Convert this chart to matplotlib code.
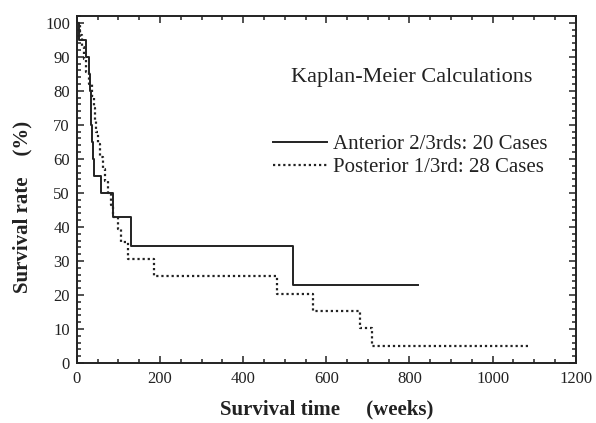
import matplotlib
matplotlib.use('Agg')
import matplotlib.pyplot as plt
from matplotlib.ticker import MultipleLocator

# Kaplan-Meier step data (weeks, % surviving)
ant_weeks = [0, 6, 22, 30, 32, 34, 35, 36, 38, 40, 58, 86, 130, 520, 820]
ant_surv = [100, 95, 90, 85, 80, 75, 70, 65, 60, 55, 50, 42.9, 34.3, 22.9, 22.9]

post_weeks = [0, 8, 12, 16, 22, 30, 36, 40, 43, 46, 50, 56, 62, 68, 74, 82, 86,
              98, 106, 122, 186, 482, 568, 682, 710, 1091]
post_surv = [100, 96.4, 92.9, 89.3, 85.7, 82.1, 78.6, 75, 71.4, 67.9, 64.3, 60.7,
             57.1, 53.6, 50, 46.4, 42.9, 39.3, 35.7, 30.6, 25.5, 20.4, 15.3, 10.2,
             5.1, 5.1]

labels = ['Anterior 2/3rds: 20 Cases', 'Posterior 1/3rd: 28 Cases']

plt.rcParams['font.family'] = ['Liberation Serif', 'DejaVu Serif']

fig = plt.figure(figsize=(5.96, 4.23), dpi=100)
ax = fig.add_axes([0.129, 0.142, 0.837, 0.82])

ax.step(ant_weeks, ant_surv, where='post', color='#222222', lw=1.4, label=labels[0])
ax.step(post_weeks, post_surv, where='post', color='#222222', lw=1.6,
        linestyle=(0, (1, 1.3)), label=labels[1])

ax.set_xlim(0, 1200)
ax.set_ylim(0, 102)
ax.xaxis.set_major_locator(MultipleLocator(200))
ax.xaxis.set_minor_locator(MultipleLocator(50))
ax.yaxis.set_major_locator(MultipleLocator(10))
ax.yaxis.set_minor_locator(MultipleLocator(2))
ax.tick_params(which='both', direction='in', top=True, right=True, labelsize=12,
               colors='#222222', width=1.1)
ax.tick_params(which='major', length=5)
ax.tick_params(which='minor', length=3)
ax.tick_params(axis='y', pad=5)
ax.tick_params(axis='x', pad=6)
for s in ax.spines.values():
    s.set_linewidth(1.4)
    s.set_color('#222222')

ax.set_xlabel('Survival time     (weeks)', fontsize=15, fontweight='bold', labelpad=9,
              color='#222222')
ax.set_ylabel('Survival rate    (%)', fontsize=15, fontweight='bold',
              color='#222222')
ax.yaxis.set_label_coords(-0.09, 0.45)

ax.text(0.671, 0.822, 'Kaplan-Meier Calculations', transform=ax.transAxes,
        ha='center', va='center', fontsize=16, color='#222222')
ax.legend(loc='upper left', bbox_to_anchor=(0.377, 0.682), frameon=False,
          fontsize=15, handlelength=2.6, handletextpad=0.25, labelspacing=0.15,
          borderaxespad=0, labelcolor='#222222')

plt.savefig('out.png', dpi=100)
